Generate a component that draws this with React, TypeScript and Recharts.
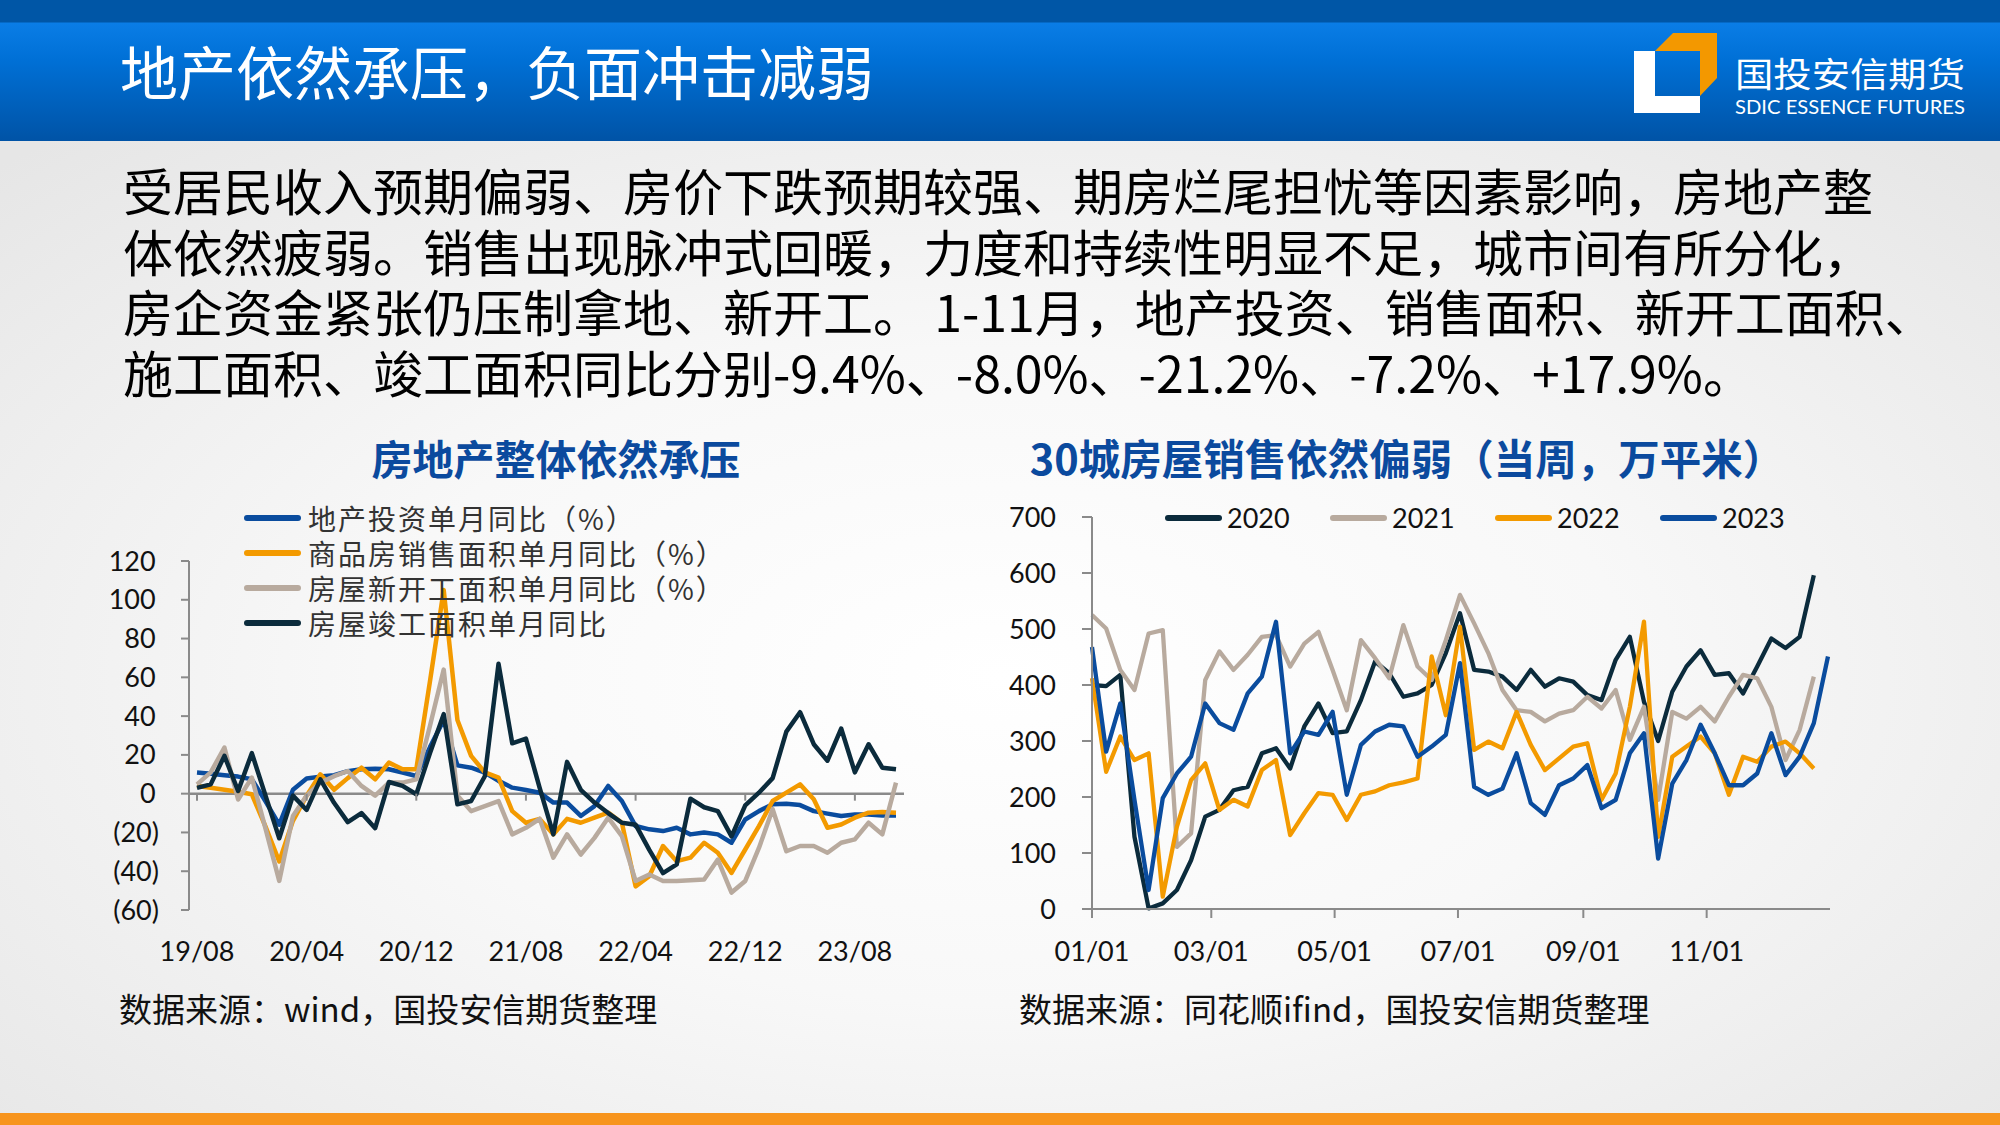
import React from 'react';
import { LineChart, Line, XAxis, YAxis, ReferenceLine, Legend } from 'recharts';

// ---- left chart: monthly YoY, 2019/08 - 2023/11 ----
const MONTHS = [
  '19/08', '19/09', '19/10', '19/11', '19/12',
  '20/01', '20/02', '20/03', '20/04', '20/05', '20/06', '20/07', '20/08', '20/09', '20/10', '20/11', '20/12',
  '21/01', '21/02', '21/03', '21/04', '21/05', '21/06', '21/07', '21/08', '21/09', '21/10', '21/11', '21/12',
  '22/01', '22/02', '22/03', '22/04', '22/05', '22/06', '22/07', '22/08', '22/09', '22/10', '22/11', '22/12',
  '23/01', '23/02', '23/03', '23/04', '23/05', '23/06', '23/07', '23/08', '23/09', '23/10', '23/11',
];
const INVEST = [
  10.9, 10.3, 9.5, 8.8, 7.4, -4, -16, 2, 7.8, 8.8, 9.5, 11.6, 12.6, 12.9, 12.6, 10.9, 9.1,
  24, 38, 14.6, 13.4, 10.9, 6.6, 3.1, 1.9, 0.5, -4.6, -4.6, -11.5, -6.4, 4, -3.8, -16.7,
  -18.4, -19.3, -17.6, -21, -20, -21, -25.3, -13.3, -9, -5.5, -5.2, -5.9, -9, -10.3, -11.5,
  -10.7, -10.7, -11.2, -11.2,
];
const SALES = [
  4, 3, 2, 1, -0.3, -17, -35, -14, -1, 10, 2, 8, 13.4, 7.4, 16, 12.6, 12.6,
  58, 105, 38, 19.5, 11, 8.3, -9, -15, -13, -21, -13, -15, -12.4, -9.8, -15, -47.8,
  -42.6, -27, -34.8, -33, -25.3, -30.5, -40.9, -28.8, -16.7, -3.8, 0.5, 4.8, -2.9, -17.6, -15.9,
  -12.4, -9.8, -9.5, -9.8,
];
const STARTS = [
  4.8, 11, 23.8, -3, 8.3, -18, -45, -11.5, -1, 5.7, 9, 11.7, 4, -1, 5.7, 5.7, 7.4,
  35, 64, -1, -9, -6.4, -3.8, -21, -17.6, -13, -33, -21, -31.4, -22.8, -12.4, -21.9, -45,
  -41.7, -45, -45, -44.7, -44.3, -34, -51, -45, -28, -8, -29.7, -27, -27, -30.5, -25.3,
  -23.6, -15, -21, 5.7,
];
const COMPLETE = [
  3, 4.8, 19.5, 1.4, 20.9, -1, -23, -1, -8.4, 7.4, -4.7, -14.7, -10, -17.8, 6, 4, -0.3,
  21, 41, -5.5, -3.8, 9, 67, 26, 28.4, 3, -21, 16.4, 2, -4.6, -10, -15, -16,
  -29, -41, -36.5, -2.6, -7, -9, -22, -6, 0.5, 8, 32, 42, 25.5, 17, 33.6,
  11, 25.5, 13.4, 12.6,
];
const LEFT_TICKS = [-60, -40, -20, 0, 20, 40, 60, 80, 100, 120];

// ---- right chart: weekly sales in 30 cities (万平米), x = day of year ----
const Y2020 = [
  400, 398, 418, 129, 1, 10, 34, 87, 165, 177, 212, 218, 278, 287, 251, 326, 367, 314, 317, 373,
  442, 421, 379, 385, 400, 457, 528, 427, 424, 415, 391, 427, 397, 412, 406, 382, 373, 445, 486, 370,
  300, 388, 433, 462, 418, 421, 385, 433, 483, 466, 486, 596,
];
const Y2021 = [
  525, 501, 427, 391, 492, 498, 111, 135, 409, 460, 427, 454, 486, 489, 433, 474, 495, 427, 355, 480,
  448, 412, 507, 433, 409, 480, 561, 510, 457, 391, 355, 352, 335, 349, 355, 379, 358, 391, 302, 361,
  195, 352, 340, 361, 335, 379, 418, 412, 361, 266, 320, 415,
];
const Y2022 = [
  412, 245, 308, 266, 278, 22, 147, 230, 260, 177, 195, 183, 248, 266, 132, 171, 207, 204, 159, 204,
  210, 221, 226, 233, 451, 346, 504, 284, 299, 287, 352, 293, 248, 269, 290, 296, 195, 242, 361, 513,
  129, 272, 290, 308, 278, 204, 272, 263, 290, 299, 278, 251,
];
const Y2023 = [
  468, 281, 367, 195, 34, 198, 242, 272, 367, 332, 320, 385, 415, 513, 278, 317, 311, 352, 204, 293,
  317, 329, 326, 272, 290, 311, 439, 218, 204, 215, 278, 189, 168, 221, 233, 257, 180, 195, 278, 314,
  90, 224, 266, 329, 278, 221, 221, 242, 314, 239, 272, 332, 451,
];
const DAY_TICKS = [0, 59, 120, 181, 243, 304];
const DAY_LABELS = ['01/01', '03/01', '05/01', '07/01', '09/01', '11/01'];
const RIGHT_TICKS = [0, 100, 200, 300, 400, 500, 600, 700];

const DARK = '#0B2B3C';
const GRAY = '#B8AA9E';
const ORANGE = '#F39A00';
const BLUE = '#0A4C9E';
const AXIS = '#8A8A8A';

const CJK = '"Noto Sans CJK SC", "Noto Sans", sans-serif';
const NUM = 'Lato, "Noto Sans", sans-serif';

const LEFT_SERIES = [
  { key: 'invest', name: '地产投资单月同比（%）', color: BLUE },
  { key: 'sales', name: '商品房销售面积单月同比（%）', color: ORANGE },
  { key: 'starts', name: '房屋新开工面积单月同比（%）', color: GRAY },
  { key: 'complete', name: '房屋竣工面积单月同比', color: DARK },
];
const RIGHT_SERIES = [
  { key: 'y2020', name: '2020', color: DARK },
  { key: 'y2021', name: '2021', color: GRAY },
  { key: 'y2022', name: '2022', color: ORANGE },
  { key: 'y2023', name: '2023', color: BLUE },
];

const leftData = MONTHS.map((m, i) => ({
  m,
  invest: INVEST[i],
  sales: SALES[i],
  starts: STARTS[i],
  complete: COMPLETE[i],
}));

const rightData = Y2023.map((_, i) => ({
  d: i * 7,
  y2020: Y2020[i],
  y2021: Y2021[i],
  y2022: Y2022[i],
  y2023: Y2023[i],
}));

// left plot geometry (px)
const L_W = 820;
const L_H = 470;
const L_TOP = 61;
const L_XH = 60;
const L_PLOT_H = L_H - L_TOP - L_XH;
const ZERO_LIFT = (L_PLOT_H * 60) / 180;

const MonthTick = (props: any) => {
  const { x, y, payload } = props;
  return (
    <g>
      <line x1={x} x2={x} y1={y - ZERO_LIFT} y2={y - ZERO_LIFT + 7} stroke={AXIS} strokeWidth={2} />
      <text x={x} y={y + 40} textAnchor="middle" dominantBaseline="central"
        style={{ fontFamily: NUM, fontSize: 27, fill: '#111' }}>
        {payload.value}
      </text>
    </g>
  );
};

const fmtLeft = (v: number) => (v < 0 ? `(${-v})` : `${v}\u2009`);
const fmtDay = (v: number) => DAY_LABELS[DAY_TICKS.indexOf(v)] ?? '';

const LeftLegend = () => (
  <div style={{ fontFamily: CJK, fontSize: 28, letterSpacing: 2, color: '#333' }}>
    {LEFT_SERIES.map((s) => (
      <div key={s.key} style={{ display: 'flex', alignItems: 'center', height: 34.8, whiteSpace: 'nowrap' }}>
        <span style={{ display: 'inline-block', width: 57, height: 6, borderRadius: 3, background: s.color, marginRight: 7 }} />
        {s.name}
      </div>
    ))}
  </div>
);

const RightLegend = () => (
  <div style={{ display: 'flex', alignItems: 'center', fontFamily: NUM, fontSize: 27, color: '#111' }}>
    {RIGHT_SERIES.map((s) => (
      <div key={s.key} style={{ display: 'flex', alignItems: 'center', width: 165 }}>
        <span style={{ display: 'inline-block', width: 57, height: 6, borderRadius: 3, background: s.color, marginRight: 5 }} />
        {s.name}
      </div>
    ))}
  </div>
);

const LeftChart = () => (
  <LineChart width={L_W} height={L_H} data={leftData} margin={{ top: L_TOP, right: 16, left: 29, bottom: 0 }}>
    <XAxis dataKey="m" interval={7} height={L_XH} axisLine={false} tickLine={false}
      tickSize={0} tickMargin={0} padding={{ left: 8, right: 8 }} tick={<MonthTick />} />
    <YAxis domain={[-60, 120]} ticks={LEFT_TICKS} width={60} tickFormatter={fmtLeft}
      axisLine={{ stroke: AXIS, strokeWidth: 2 }} tickLine={{ stroke: AXIS, strokeWidth: 2 }}
      tickSize={8} tickMargin={22} tick={{ fontFamily: NUM, fontSize: 27, fill: '#111' }} />
    <ReferenceLine y={0} stroke={AXIS} strokeWidth={2.5} />
    <Legend layout="vertical" align="center" verticalAlign="middle"
      wrapperStyle={{ left: 144, top: 1, width: 560 }} content={() => <LeftLegend />} />
    {LEFT_SERIES.map((s) => (
      <Line key={s.key} type="linear" dataKey={s.key} name={s.name} stroke={s.color} strokeWidth={4.5}
        strokeLinejoin="round" dot={false} isAnimationActive={false} />
    ))}
  </LineChart>
);

const RightChart = () => (
  <LineChart width={860} height={500} data={rightData} margin={{ top: 47, right: 20, left: 32, bottom: 11 }}>
    <XAxis dataKey="d" type="number" domain={[0, 365]} ticks={DAY_TICKS} tickFormatter={fmtDay} height={50}
      axisLine={{ stroke: AXIS, strokeWidth: 2 }} tickLine={{ stroke: AXIS, strokeWidth: 2 }}
      tickSize={9} tickMargin={24} tick={{ fontFamily: NUM, fontSize: 27, fill: '#111' }} />
    <YAxis domain={[0, 700]} ticks={RIGHT_TICKS} width={70}
      axisLine={{ stroke: AXIS, strokeWidth: 2 }} tickLine={{ stroke: AXIS, strokeWidth: 2 }}
      tickSize={10} tickMargin={26} tick={{ fontFamily: NUM, fontSize: 27, fill: '#111' }} />
    <Legend layout="vertical" align="center" verticalAlign="middle"
      wrapperStyle={{ left: 175, top: 31, width: 680 }} content={() => <RightLegend />} />
    {RIGHT_SERIES.map((s) => (
      <Line key={s.key} type="linear" dataKey={s.key} name={s.name} stroke={s.color} strokeWidth={4.3}
        strokeLinejoin="round" dot={false} isAnimationActive={false} />
    ))}
  </LineChart>
);

const PARAGRAPH = [
  '受居民收入预期偏弱、房价下跌预期较强、期房烂尾担忧等因素影响，房地产整',
  '体依然疲弱。销售出现脉冲式回暖，力度和持续性明显不足，城市间有所分化，',
  '房企资金紧张仍压制拿地、新开工。 1-11月，地产投资、销售面积、新开工面积、',
  '施工面积、竣工面积同比分别-9.4%、-8.0%、-21.2%、-7.2%、+17.9%。',
];

export default function App() {
  return (
    <div style={{ position: 'absolute', left: 0, top: 0, width: 2000, height: 1125, overflow: 'hidden', fontFamily: CJK }}>
      {/* background */}
      <div style={{ position: 'absolute', left: 0, top: 141, width: 2000, height: 972,
        background: 'radial-gradient(ellipse 70% 75% at 50% 55%, #ffffff 0%, #f8f8f8 45%, #e6e6e6 100%)' }} />
      <div style={{ position: 'absolute', left: 0, top: 1113, width: 2000, height: 12, background: '#F7941D' }} />

      {/* header */}
      <div style={{ position: 'absolute', left: 0, top: 0, width: 2000, height: 141,
        background: 'linear-gradient(180deg, #0056a6 0px, #0056a6 22px, #0a7de6 23px, #0070d6 60px, #0053a6 141px)' }} />
      <div style={{ position: 'absolute', left: 120, top: 30, fontSize: 58, lineHeight: '80px', color: '#fff', whiteSpace: 'nowrap' }}>
        地产依然承压，负面冲击减弱
      </div>
      <svg width={2000} height={141} style={{ position: 'absolute', left: 0, top: 0 }}>
        <polygon points="1634,51 1655,51 1655,96 1700,96 1700,113 1634,113" fill="#ffffff" />
        <polygon points="1655,51 1673,33 1717,33 1717,78 1700,96 1700,51" fill="#F39800" />
        <text x={1735} y={87} textLength={230} lengthAdjust="spacingAndGlyphs"
          style={{ fontFamily: CJK, fontSize: 34, fill: '#fff' }}>国投安信期货</text>
        <text x={1735} y={114} textLength={230} lengthAdjust="spacingAndGlyphs"
          style={{ fontFamily: NUM, fontSize: 20, fill: '#fff' }}>SDIC ESSENCE FUTURES</text>
      </svg>

      {/* paragraph */}
      <div style={{ position: 'absolute', left: 123, top: 159, fontSize: 50, lineHeight: '60.5px', color: '#000' }}>
        {PARAGRAPH.map((line) => (
          <div key={line} style={{ whiteSpace: 'pre' }}>{line}</div>
        ))}
      </div>

      {/* chart titles */}
      <div style={{ position: 'absolute', left: 256, top: 427, width: 600, textAlign: 'center', fontSize: 41,
        fontWeight: 700, lineHeight: '60px', color: '#0B4A9E', whiteSpace: 'nowrap' }}>
        房地产整体依然承压
      </div>
      <div style={{ position: 'absolute', left: 1007, top: 427, width: 800, textAlign: 'center', fontSize: 41.5,
        fontWeight: 700, lineHeight: '60px', color: '#0B4A9E', whiteSpace: 'nowrap' }}>
        30城房屋销售依然偏弱（当周，万平米）
      </div>

      {/* charts */}
      <div style={{ position: 'absolute', left: 100, top: 500 }}>
        <LeftChart />
      </div>
      <div style={{ position: 'absolute', left: 990, top: 470 }}>
        <RightChart />
      </div>

      {/* sources */}
      <div style={{ position: 'absolute', left: 119, top: 983, fontSize: 33, lineHeight: '50px', color: '#111', whiteSpace: 'nowrap' }}>
        数据来源：wind，国投安信期货整理
      </div>
      <div style={{ position: 'absolute', left: 1019, top: 983, fontSize: 33, lineHeight: '50px', color: '#111', whiteSpace: 'nowrap' }}>
        数据来源：同花顺ifind，国投安信期货整理
      </div>
    </div>
  );
}
